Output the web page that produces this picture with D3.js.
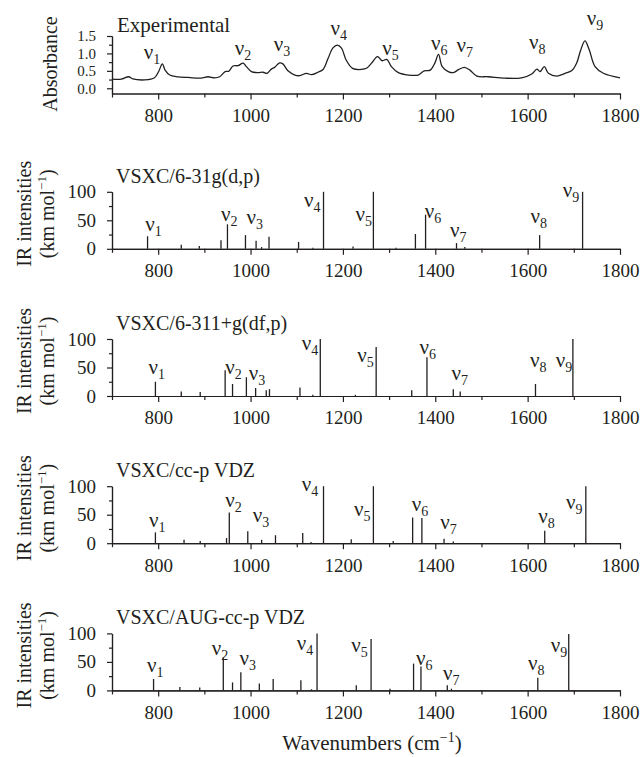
<!DOCTYPE html>
<html>
<head>
<meta charset="utf-8">
<script src="https://cdn.jsdelivr.net/npm/d3@7"></script>
<style>
  body { margin: 0; background: #fff; }
  text { font-family: "Liberation Serif", "Times New Roman", serif; fill: #231f20; }
</style>
</head>
<body>
<div id="chart"></div>
<script>
// experimental spectrum (wavenumber, absorbance)
const expWave = [700, 720, 736, 745, 771, 792, 801, 809, 815, 825, 843, 865, 893, 908, 922, 933, 945, 953, 962, 973, 984, 991,
  1002, 1016, 1027, 1036, 1045, 1052, 1063, 1070, 1081, 1096, 1106, 1121, 1132, 1146, 1157, 1168, 1178, 1188, 1197, 1207,
  1221, 1240, 1252, 1262, 1275, 1285, 1295, 1305, 1320, 1342, 1363, 1376, 1389, 1399, 1407, 1415, 1428, 1439, 1451, 1463,
  1475, 1490, 1515, 1551, 1587, 1609, 1620, 1627, 1636, 1645, 1663, 1681, 1695, 1706, 1715, 1724, 1733, 1746, 1764, 1800];
const expAbs = [0.26, 0.26, 0.33, 0.27, 0.24, 0.30, 0.48, 0.70, 0.52, 0.38, 0.33, 0.31, 0.29, 0.33, 0.30, 0.33, 0.48, 0.49, 0.64, 0.65, 0.72, 0.62,
  0.48, 0.45, 0.46, 0.43, 0.55, 0.60, 0.73, 0.70, 0.50, 0.38, 0.36, 0.43, 0.39, 0.46, 0.54, 0.86, 1.15, 1.24, 1.15, 0.81,
  0.57, 0.54, 0.58, 0.72, 0.91, 0.79, 0.83, 0.62, 0.45, 0.38, 0.38, 0.50, 0.52, 0.72, 0.97, 0.62, 0.48, 0.45, 0.54, 0.60,
  0.52, 0.35, 0.33, 0.29, 0.30, 0.41, 0.55, 0.48, 0.62, 0.43, 0.35, 0.43, 0.50, 0.72, 1.10, 1.36, 1.12, 0.62, 0.43, 0.30];
const expLabX = [769, 966, 1050, 1173, 1285, 1391, 1446, 1603, 1728];
const expLabY = [0.83, 0.95, 1.08, 1.53, 0.95, 1.10, 1.05, 1.12, 1.81];

// VSXC/6-31g(d,p)
const waveA = [777, 850, 889, 936, 950, 989, 1012, 1024, 1040, 1104, 1135, 1158, 1222, 1266, 1315, 1357, 1379, 1446, 1464, 1626, 1719];
const intA  = [22, 7, 5, 15, 43, 24, 14, 3, 21, 12, 2, 100, 4, 100, 2, 26, 60, 10, 3, 24, 100];
const labXA = [772, 936, 991, 1116, 1227, 1377, 1432, 1606, 1676];
const labYA = [32, 49, 43, 74, 48, 54, 20, 46, 91];

// VSXC/6-311+g(df,p)
const waveB = [794, 850, 891, 945, 961, 991, 1011, 1034, 1041, 1107, 1135, 1151, 1227, 1272, 1349, 1382, 1439, 1454, 1617, 1698];
const intB  = [25, 8, 7, 45, 21, 33, 14, 10, 12, 15, 2, 100, 2, 86, 10, 68, 12, 8, 21, 100];
const labXB = [779, 945, 996, 1111, 1231, 1366, 1435, 1605, 1661];
const labYB = [39, 39, 28, 80, 60, 74, 28, 51, 51];

// VSXC/cc-p VDZ
const waveC = [794, 856, 891, 948, 954, 994, 1024, 1054, 1113, 1131, 1158, 1218, 1266, 1309, 1351, 1371, 1419, 1439, 1637, 1726];
const intC  = [19, 6, 4, 9, 54, 21, 6, 14, 18, 2, 100, 7, 100, 4, 45, 44, 8, 3, 22, 100];
const labXC = [780, 945, 1005, 1111, 1224, 1349, 1411, 1623, 1683];
const labYC = [29, 63, 38, 92, 48, 57, 25, 36, 60];

// VSXC/AUG-cc-p VDZ
const waveD = [790, 847, 890, 941, 961, 979, 1019, 1049, 1109, 1132, 1144, 1229, 1261, 1302, 1353, 1369, 1426, 1435, 1622, 1689];
const intD  = [20, 6, 5, 58, 14, 32, 12, 20, 18, 2, 100, 9, 90, 3, 47, 42, 9, 3, 22, 99];
const labXD = [776, 916, 976, 1100, 1218, 1358, 1417, 1601, 1650];
const labYD = [33, 62, 45, 71, 68, 45, 18, 36, 68];

const titles = ["VSXC/6-31g(d,p)", "VSXC/6-311+g(df,p)", "VSXC/cc-p VDZ", "VSXC/AUG-cc-p VDZ"];
const majorX = [800, 1000, 1200, 1400, 1600, 1800];
const minorX = [700, 900, 1100, 1300, 1500, 1700];

const width = 642, height = 757;
const ink = "#231f20";

let svg = d3.select("#chart")
    .append("svg")
    .attr("width", width)
    .attr("height", height);

let x = d3.scaleLinear().domain([700, 1800]).range([112, 620]);

function xAxes(g, y0) {
    g.append("g")
        .attr("transform", `translate(0, ${y0})`)
        .call(d3.axisBottom(x).tickValues(minorX).tickSize(4).tickSizeOuter(0).tickFormat(""));
    g.append("g")
        .attr("transform", `translate(0, ${y0})`)
        .call(d3.axisBottom(x).tickValues(majorX).tickSize(6).tickSizeOuter(0).tickPadding(9)
            .tickFormat(d3.format("d")));
}

function yAxes(g, y, major, minor, fmt, fs) {
    g.append("g")
        .attr("transform", `translate(${x(700)}, 0)`)
        .call(d3.axisLeft(y).tickValues(minor).tickSize(3).tickSizeOuter(0).tickFormat(""));
    let ax = g.append("g")
        .attr("class", "yaxis")
        .attr("transform", `translate(${x(700)}, 0)`)
        .call(d3.axisLeft(y).tickValues(major).tickSize(5).tickSizeOuter(0).tickPadding(11).tickFormat(fmt));
    return ax;
}

function styleAxes(g, yfs) {
    g.selectAll(".domain, .tick line").attr("stroke", ink).attr("stroke-width", 1.2);
    g.selectAll(".tick text").attr("fill", ink)
        .style("font-family", '"Liberation Serif", serif')
        .style("font-size", "19px");
    g.selectAll(".yaxis .tick text").style("font-size", yfs + "px");
}

function nuLabels(g, y, xs, ys) {
    xs.forEach(function(v, i) {
        let t = g.append("text")
            .attr("x", x(v))
            .attr("y", y(ys[i]))
            .attr("fill", ink)
            .style("font-size", "21px");
        t.append("tspan").text("ν");
        t.append("tspan").attr("dy", 5).style("font-size", "14px").text(i + 1);
    });
}

// ---- experimental panel
let expG = svg.append("g");
let yExp = d3.scaleLinear().domain([-0.15, 1.5]).range([93.5, 36]);
xAxes(expG, 93.5);
yAxes(expG, yExp, [0, 0.5, 1, 1.5], [0.25, 0.75, 1.25], d3.format(".1f"));
styleAxes(expG, 15);

let expData = expWave.map(function(w, i) { return [w, expAbs[i]]; });
expG.append("path")
    .datum(expData)
    .attr("fill", "none")
    .attr("stroke", ink)
    .attr("stroke-width", 1.3)
    .attr("d", d3.line()
        .x(function(d) { return x(d[0]); })
        .y(function(d) { return yExp(d[1]); })
        .curve(d3.curveCatmullRom.alpha(0.5)));

expG.append("text").attr("x", 117).attr("y", 32).attr("fill", ink).style("font-size", "21px").text("Experimental");
nuLabels(expG, yExp, expLabX, expLabY);

expG.append("text")
    .attr("transform", `translate(57, 64) rotate(-90)`)
    .attr("fill", ink)
    .style("text-anchor", "middle")
    .style("font-size", "20px")
    .text("Absorbance");

// ---- computed IR panels
const panels = [
    { title: titles[0], wave: waveA, inten: intA, lx: labXA, ly: labYA },
    { title: titles[1], wave: waveB, inten: intB, lx: labXB, ly: labYB },
    { title: titles[2], wave: waveC, inten: intC, lx: labXC, ly: labYC },
    { title: titles[3], wave: waveD, inten: intD, lx: labXD, ly: labYD }
];

panels.forEach(function(p, k) {
    let zero = 248.8 + k * 147.2;
    let g = svg.append("g");
    let y = d3.scaleLinear().domain([0, 100]).range([zero, zero - 57]);

    xAxes(g, zero);
    yAxes(g, y, [0, 50, 100], [25, 75], d3.format("d"));
    styleAxes(g, 19);

    g.selectAll("line.bar")
        .data(p.wave)
        .enter()
        .append("line")
        .attr("class", "bar")
        .attr("x1", function(d) { return x(d); })
        .attr("x2", function(d) { return x(d); })
        .attr("y1", y(0))
        .attr("y2", function(d, i) { return y(p.inten[i]); })
        .attr("stroke", ink)
        .attr("stroke-width", 1.3);

    g.append("text").attr("x", 116).attr("y", zero - 66).attr("fill", ink).style("font-size", "20px").text(p.title);
    nuLabels(g, y, p.lx, p.ly);

    g.append("text")
        .attr("transform", `translate(31, ${zero - 35}) rotate(-90)`)
        .attr("fill", ink)
        .style("text-anchor", "middle")
        .style("font-size", "20px")
        .text("IR intensities");
    let lab2 = g.append("text")
        .attr("transform", `translate(54, ${zero - 35}) rotate(-90)`)
        .attr("fill", ink)
        .style("text-anchor", "middle")
        .style("font-size", "20px");
    lab2.append("tspan").text("(km mol");
    lab2.append("tspan").attr("dy", -8).style("font-size", "13px").text("−1");
    lab2.append("tspan").attr("dy", 8).text(")");
});

// x axis title
let xt = svg.append("text")
    .attr("x", 372)
    .attr("y", 750)
    .attr("fill", ink)
    .style("text-anchor", "middle")
    .style("font-size", "21px");
xt.append("tspan").text("Wavenumbers (cm");
xt.append("tspan").attr("dy", -8).style("font-size", "14px").text("−1");
xt.append("tspan").attr("dy", 8).text(")");
</script>
</body>
</html>
